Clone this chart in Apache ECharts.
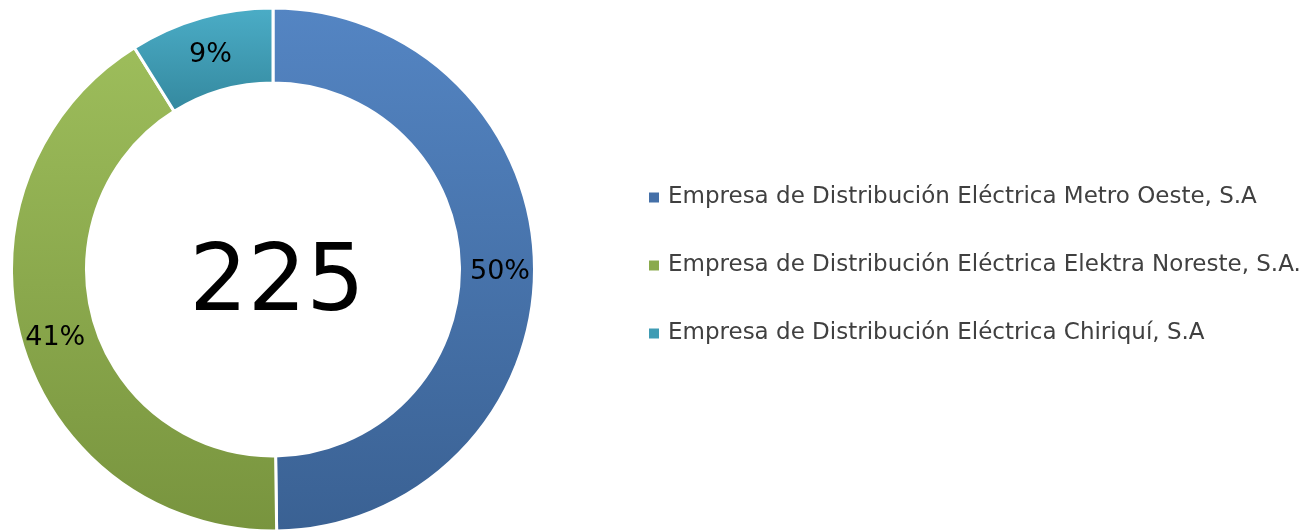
<!DOCTYPE html>
<html>
<head>
<meta charset="utf-8">
<script src="https://cdn.jsdelivr.net/npm/echarts@6/dist/echarts.min.js"></script>
<style>
  html, body { margin: 0; padding: 0; background: #fff; }
  #chart { width: 1305px; height: 530px; }
</style>
</head>
<body>
<div id="chart"></div>
<script>
const categories = [
  'Empresa de Distribución Eléctrica Metro Oeste, S.A',
  'Empresa de Distribución Eléctrica Elektra Noreste, S.A.',
  'Empresa de Distribución Eléctrica Chiriquí, S.A'
];
const values = [112, 93, 20];
const colorTop = ['#5485C3', '#9DBD5B', '#4BADC7'];
const colorBottom = ['#3A6193', '#78943E', '#34889E'];
const legendColor = ['#4570A8', '#8AAA4C', '#3F9CB4'];

const total = values.reduce((a, b) => a + b, 0);
const font = '"DejaVu Sans", sans-serif';

const chart = echarts.init(document.getElementById('chart'));
chart.setOption({
  animation: false,
  legend: {
    orient: 'vertical',
    left: 642,
    top: 180,
    itemWidth: 12,
    itemHeight: 12,
    itemGap: 43,
    icon: 'rect',
    textStyle: {
      fontFamily: font, fontSize: 23, color: '#404040',
      lineHeight: 25, padding: [0, 0, 0, 3]
    },
    data: categories.map((name, i) => ({
      name: name,
      itemStyle: { color: legendColor[i] }
    }))
  },
  graphic: [{
    type: 'text',
    x: 277,
    y: 286,
    style: {
      text: String(total),
      fontFamily: font,
      fontSize: 92,
      fill: '#000',
      align: 'center',
      verticalAlign: 'middle'
    }
  }],
  series: [{
    type: 'pie',
    center: [273, 269.5],
    radius: [186.5, 261.5],
    startAngle: 90,
    clockwise: true,
    avoidLabelOverlap: false,
    itemStyle: { borderColor: '#fff', borderWidth: 3 },
    label: {
      position: 'inside',
      fontFamily: font,
      fontSize: 27,
      color: '#000',
      offset: [0, 4],
      formatter: p => Math.round(p.percent) + '%'
    },
    labelLine: { show: false },
    emphasis: { disabled: true },
    data: categories.map((name, i) => ({
      name: name,
      value: values[i],
      itemStyle: {
        color: new echarts.graphic.LinearGradient(0, 0, 0, 1, [
          { offset: 0, color: colorTop[i] },
          { offset: 1, color: colorBottom[i] }
        ])
      }
    }))
  }]
});
</script>
</body>
</html>
